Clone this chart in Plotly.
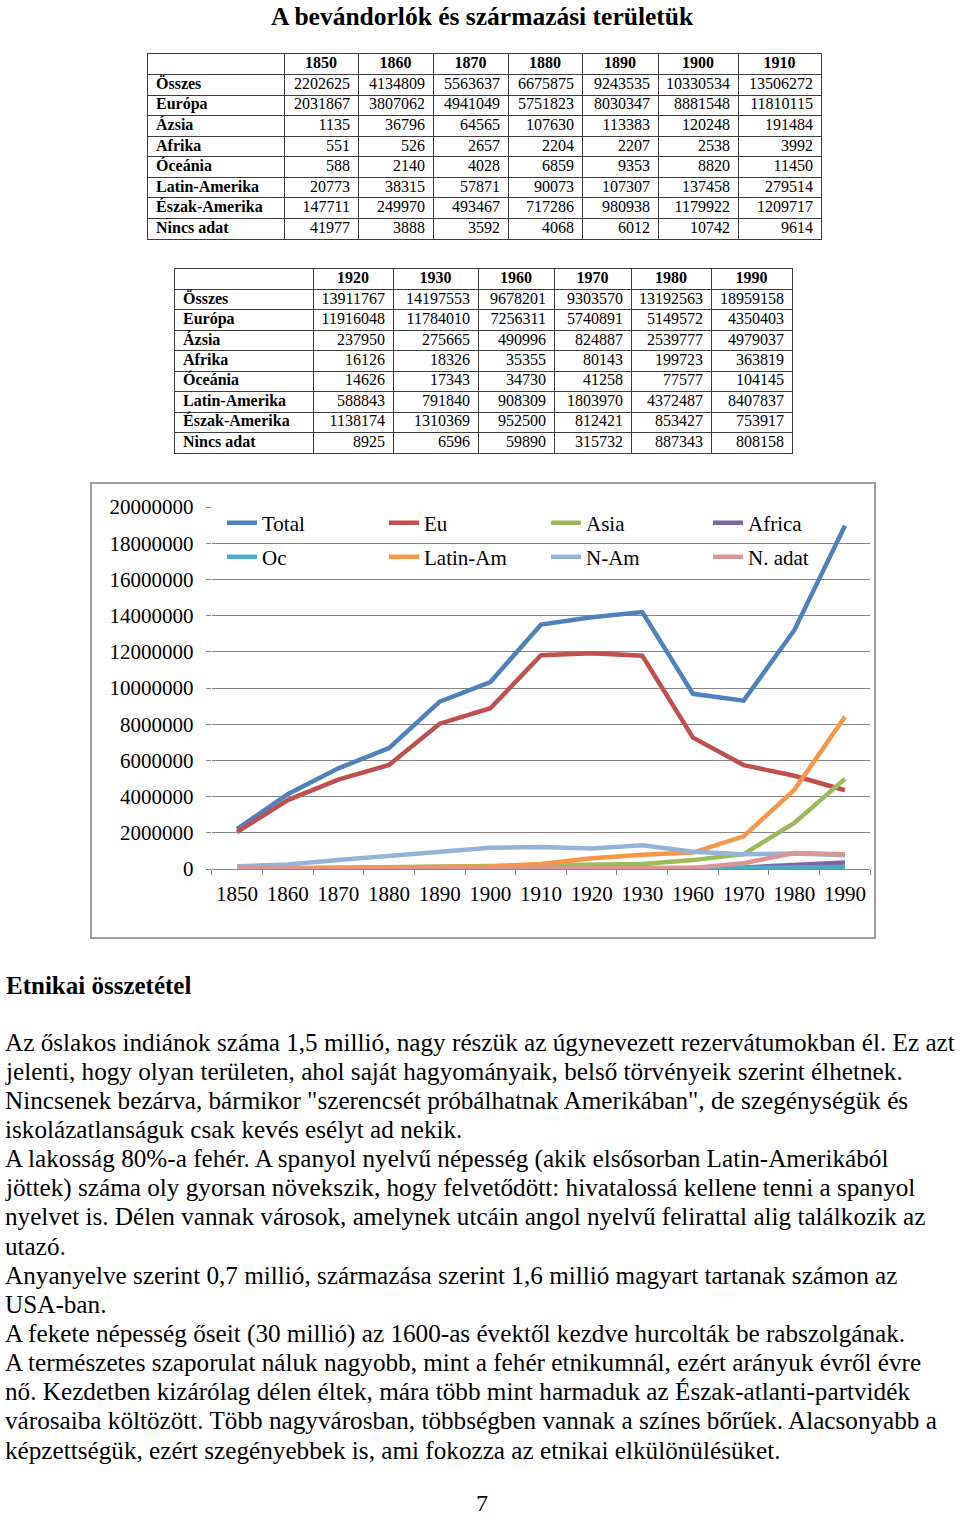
import plotly.graph_objects as go

W, H = 960, 1515
FONT = "Liberation Serif"

# ---------------- data ----------------
YEARS = ["1850", "1860", "1870", "1880", "1890", "1900", "1910",
         "1920", "1930", "1960", "1970", "1980", "1990"]
REGIONS = ["Összes", "Európa", "Ázsia", "Afrika", "Óceánia",
           "Latin-Amerika", "Észak-Amerika", "Nincs adat"]
LEGEND_NAMES = ["Total", "Eu", "Asia", "Africa", "Oc", "Latin-Am", "N-Am", "N. adat"]

OSSZES = [2202625, 4134809, 5563637, 6675875, 9243535, 10330534, 13506272,
          13911767, 14197553, 9678201, 9303570, 13192563, 18959158]
EUROPA = [2031867, 3807062, 4941049, 5751823, 8030347, 8881548, 11810115,
          11916048, 11784010, 7256311, 5740891, 5149572, 4350403]
AZSIA = [1135, 36796, 64565, 107630, 113383, 120248, 191484,
         237950, 275665, 490996, 824887, 2539777, 4979037]
AFRIKA = [551, 526, 2657, 2204, 2207, 2538, 3992,
          16126, 18326, 35355, 80143, 199723, 363819]
OCEANIA = [588, 2140, 4028, 6859, 9353, 8820, 11450,
           14626, 17343, 34730, 41258, 77577, 104145]
LATIN_AM = [20773, 38315, 57871, 90073, 107307, 137458, 279514,
            588843, 791840, 908309, 1803970, 4372487, 8407837]
ESZAK_AM = [147711, 249970, 493467, 717286, 980938, 1179922, 1209717,
            1138174, 1310369, 952500, 812421, 853427, 753917]
NINCS_ADAT = [41977, 3888, 3592, 4068, 6012, 10742, 9614,
              8925, 6596, 59890, 315732, 887343, 808158]

SERIES = [OSSZES, EUROPA, AZSIA, AFRIKA, OCEANIA, LATIN_AM, ESZAK_AM, NINCS_ADAT]
COLORS = ["#4F81BD", "#C0504D", "#9BBB59", "#8064A2",
          "#4BACC6", "#F79646", "#95B3D7", "#D99694"]

TITLE = "A bevándorlók és származási területük"
HEADING = "Etnikai összetétel"
TEXT_LINES = [
    "Az őslakos indiánok száma 1,5 millió, nagy részük az úgynevezett rezervátumokban él. Ez azt",
    "jelenti, hogy olyan területen, ahol saját hagyományaik, belső törvényeik szerint élhetnek.",
    "Nincsenek bezárva, bármikor \"szerencsét próbálhatnak Amerikában\", de szegénységük és",
    "iskolázatlanságuk csak kevés esélyt ad nekik.",
    "A lakosság 80%-a fehér. A spanyol nyelvű népesség (akik elsősorban Latin-Amerikából",
    "jöttek) száma oly gyorsan növekszik, hogy felvetődött: hivatalossá kellene tenni a spanyol",
    "nyelvet is. Délen vannak városok, amelynek utcáin angol nyelvű felirattal alig találkozik az",
    "utazó.",
    "Anyanyelve szerint 0,7 millió, származása szerint 1,6 millió magyart tartanak számon az",
    "USA-ban.",
    "A fekete népesség őseit (30 millió) az 1600-as évektől kezdve hurcolták be rabszolgának.",
    "A természetes szaporulat náluk nagyobb, mint a fehér etnikumnál, ezért arányuk évről évre",
    "nő. Kezdetben kizárólag délen éltek, mára több mint harmaduk az Észak-atlanti-partvidék",
    "városaiba költözött. Több nagyvárosban, többségben vannak a színes bőrűek. Alacsonyabb a",
    "képzettségük, ezért szegényebbek is, ami fokozza az etnikai elkülönülésüket.",
]
PAGE_NUMBER = "7"


def px_x(v):
    return v / W


def px_y(v):
    return 1 - v / H


fig = go.Figure()
layout_axes = {}

# ---------------- tables (drawn on their own axes) ----------------
GRID = "#3c3c3c"
PAD = 8


def add_table(n, idx, left, top, bottom, colwidths):
    xa, ya = "x%d" % n, "y%d" % n
    bounds = [0]
    for w in colwidths:
        bounds.append(bounds[-1] + w)
    total = bounds[-1]
    nrows = len(REGIONS) + 1
    layout_axes["xaxis%d" % n] = dict(
        domain=[px_x(left), px_x(left + total)], range=[0, total],
        tickvals=bounds, showticklabels=False, showgrid=True, gridcolor=GRID,
        gridwidth=1, zeroline=False, showline=True, mirror=True, linecolor=GRID,
        linewidth=1, ticks="", anchor=ya, fixedrange=True, automargin=False)
    layout_axes["yaxis%d" % n] = dict(
        domain=[px_y(bottom), px_y(top)], range=[nrows, 0],
        tickvals=list(range(nrows + 1)), showticklabels=False, showgrid=True,
        gridcolor=GRID, gridwidth=1, zeroline=False, showline=True, mirror=True,
        linecolor=GRID, linewidth=1, ticks="", anchor=xa, fixedrange=True,
        automargin=False)
    tf = dict(family=FONT, size=16, color="black")
    fig.add_trace(go.Scatter(
        x=[(bounds[k + 1] + bounds[k + 2]) / 2 for k in range(len(idx))],
        y=[0.5] * len(idx), text=[YEARS[j] for j in idx], mode="text",
        textposition="middle center", textfont=dict(tf, weight="bold"),
        xaxis=xa, yaxis=ya, showlegend=False, hoverinfo="skip", cliponaxis=False))
    fig.add_trace(go.Scatter(
        x=[PAD] * len(REGIONS), y=[r + 1.5 for r in range(len(REGIONS))],
        text=REGIONS, mode="text", textposition="middle right",
        textfont=dict(tf, weight="bold"),
        xaxis=xa, yaxis=ya, showlegend=False, hoverinfo="skip", cliponaxis=False))
    xs, ys, ts = [], [], []
    for k, j in enumerate(idx):
        for r, s in enumerate(SERIES):
            xs.append(bounds[k + 2] - PAD)
            ys.append(r + 1.5)
            ts.append(str(s[j]))
    fig.add_trace(go.Scatter(
        x=xs, y=ys, text=ts, mode="text", textposition="middle left",
        textfont=tf, xaxis=xa, yaxis=ya, showlegend=False, hoverinfo="skip",
        cliponaxis=False))


add_table(2, list(range(0, 7)), 148, 54, 239, [136, 74, 75, 75, 74, 76, 80, 83])
add_table(3, list(range(7, 13)), 175, 269, 453, [138, 80, 85, 76, 77, 80, 81])

# ---------------- line chart ----------------
for i, (name, vals, col) in enumerate(zip(LEGEND_NAMES, SERIES, COLORS)):
    fig.add_trace(go.Scatter(
        x=YEARS, y=vals, name=name, mode="lines",
        line=dict(color=col, width=4.5),
        legend="legend" if i < 4 else "legend2",
        hoverinfo="skip",
    ))

x_left, x_right = 211.7, 870.3
y_top, y_zero = 507, 869

fig.update_layout(
    width=W, height=H,
    margin=dict(l=0, r=0, t=0, b=0, autoexpand=False),
    paper_bgcolor="white", plot_bgcolor="white",
    font=dict(family=FONT, color="black"),
    xaxis=dict(
        domain=[px_x(x_left), px_x(x_right)], type="category",
        range=[-0.5, 12.5], showgrid=False, zeroline=False,
        showline=True, linecolor="#868686", linewidth=1,
        ticks="outside", tickson="boundaries", ticklen=5, tickcolor="#868686",
        tickfont=dict(family=FONT, size=21, color="black"), tickangle=0,
        ticklabelstandoff=6, fixedrange=True, automargin=False,
    ),
    yaxis=dict(
        domain=[px_y(y_zero), px_y(y_top)], range=[0, 20000000], dtick=2000000,
        tickformat="d", showgrid=True, gridcolor="#868686", gridwidth=1,
        zeroline=False, showline=False,
        ticks="outside", ticklen=5, tickcolor="#868686",
        tickfont=dict(family=FONT, size=21, color="black"),
        ticklabelstandoff=8, fixedrange=True, automargin=False,
    ),
    legend=dict(x=px_x(222), y=px_y(523), xanchor="left", yanchor="middle",
                orientation="h", entrywidth=117, bgcolor="rgba(0,0,0,0)",
                font=dict(family=FONT, size=21, color="black"), tracegroupgap=0),
    legend2=dict(x=px_x(222), y=px_y(557), xanchor="left", yanchor="middle",
                 orientation="h", entrywidth=117, bgcolor="rgba(0,0,0,0)",
                 font=dict(family=FONT, size=21, color="black"), tracegroupgap=0),
    showlegend=True,
    **layout_axes,
)

fig.add_shape(type="rect", xref="paper", yref="paper",
              x0=px_x(91), x1=px_x(875), y0=px_y(938), y1=px_y(483),
              line=dict(color="#A0A0A0", width=2), layer="below")

# ---------------- text ----------------
fig.add_annotation(text="<b>%s</b>" % TITLE, xref="paper", yref="paper",
                   x=px_x(482), y=px_y(0), xanchor="center", yanchor="top",
                   showarrow=False, font=dict(family=FONT, size=25.5, color="black"))
fig.add_annotation(text="<b>%s</b>" % HEADING, xref="paper", yref="paper",
                   x=px_x(4), y=px_y(985), xanchor="left", yanchor="middle",
                   showarrow=False, font=dict(family=FONT, size=25, color="black"))
LINE_Y0 = 1042
LINE_STEP = 29.15
for k, line in enumerate(TEXT_LINES):
    fig.add_annotation(text=line, xref="paper", yref="paper",
                       x=px_x(3), y=px_y(LINE_Y0 + k * LINE_STEP),
                       xanchor="left", yanchor="middle", showarrow=False,
                       font=dict(family=FONT, size=25.2, color="black"))
fig.add_annotation(text=PAGE_NUMBER, xref="paper", yref="paper",
                   x=px_x(482), y=px_y(1503), xanchor="center", yanchor="middle",
                   showarrow=False, font=dict(family=FONT, size=24, color="black"))

POST = (
    "document.documentElement.style.margin='0';document.documentElement.style.padding='0';"
    "document.body.style.margin='0';document.body.style.padding='0';"
    "var gd=document.getElementById('{plot_id}');gd.style.position='absolute';"
    "gd.style.left='0px';gd.style.top='0px';"
)
fig.write_html("out.html", post_script=POST, config={"displayModeBar": False})
